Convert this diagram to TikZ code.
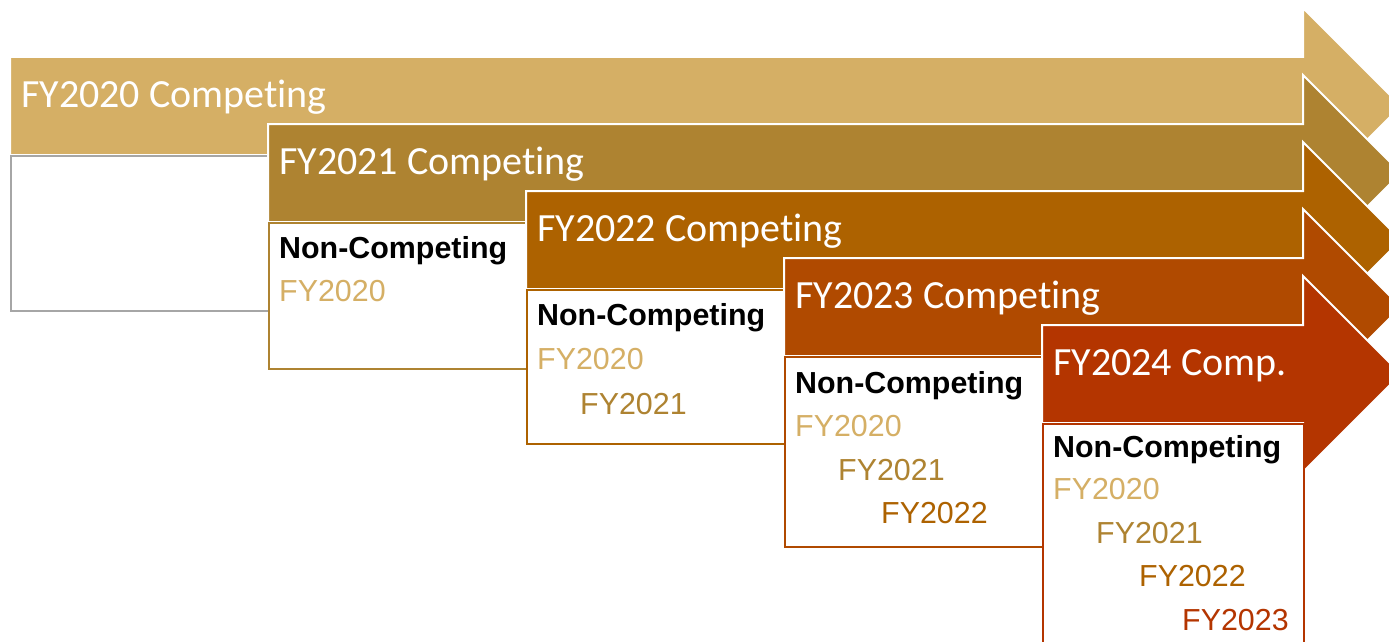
\documentclass[tikz,border=0pt]{standalone}
\usepackage{fontspec}
\setmainfont{Liberation Sans}
\newfontfamily\calibri[Ligatures={NoCommon,NoContextual,NoRequired}]{Carlito}
\usepackage{xcolor}
\usetikzlibrary{positioning}

\definecolor{fyA}{RGB}{213,175,101}
\definecolor{fyB}{RGB}{174,131,49}
\definecolor{fyC}{RGB}{173,98,0}
\definecolor{fyD}{RGB}{176,74,0}
\definecolor{fyE}{RGB}{180,53,0}
\definecolor{frameGray}{RGB}{166,166,166}

\tikzset{
    arrowbody/.style={draw=white, line width=2pt, line join=miter},
    boxframe/.style={draw, fill=white, line width=2pt, anchor=north west, inner sep=0pt, minimum width=258pt},
    comptext/.style={anchor=base west, inner sep=0pt, text=white, font=\calibri\fontsize{40}{40}\selectfont},
    listtext/.style={anchor=base west, inner sep=0pt, font=\fontsize{30.4}{36}\selectfont}
}

\begin{document}
\begin{tikzpicture}[x=1pt,y=-1pt]
        \useasboundingbox (0,0) rectangle (1389,642);
        \clip (0,0) rectangle (1389,642);

        \filldraw[arrowbody, fill=fyA] (10,57) -- (1303,57) -- (1303,8) -- (1401,106) -- (1303,204) -- (1303,155) -- (10,155) -- cycle;
        \node[comptext] (compA) at (21,107) {FY2020 Competing};
        \node[boxframe, draw=frameGray, minimum height=155pt] (boxA) at (10,155) {};

        \filldraw[arrowbody, fill=fyB] (268,124) -- (1303,124) -- (1303,75) -- (1401,173) -- (1303,271) -- (1303,222) -- (268,222) -- cycle;
        \node[comptext] (compB) at (279,174) {FY2021 Competing};
        \node[boxframe, draw=fyB, minimum height=146pt] (boxB) at (268,222) {};
        \node[listtext] (ncB) at (279,258) {\textbf{Non-Competing}};
        \node[listtext, text=fyA] (ncBa) at (279,301) {FY2020};

        \filldraw[arrowbody, fill=fyC] (526,191) -- (1303,191) -- (1303,142) -- (1401,240) -- (1303,338) -- (1303,289) -- (526,289) -- cycle;
        \node[comptext] (compC) at (537,241) {FY2022 Competing};
        \node[boxframe, draw=fyC, minimum height=154pt] (boxC) at (526,289) {};
        \node[listtext] (ncC) at (537,325) {\textbf{Non-Competing}};
        \node[listtext, text=fyA] (ncCa) at (537,369) {FY2020};
        \node[listtext, text=fyB] (ncCb) at (580,414) {FY2021};

        \filldraw[arrowbody, fill=fyD] (784,258) -- (1303,258) -- (1303,209) -- (1401,307) -- (1303,405) -- (1303,356) -- (784,356) -- cycle;
        \node[comptext] (compD) at (795,308) {FY2023 Competing};
        \node[boxframe, draw=fyD, minimum height=190pt] (boxD) at (784,356) {};
        \node[listtext] (ncD) at (795,393) {\textbf{Non-Competing}};
        \node[listtext, text=fyA] (ncDa) at (795,436) {FY2020};
        \node[listtext, text=fyB] (ncDb) at (838,480) {FY2021};
        \node[listtext, text=fyC] (ncDc) at (881,523) {FY2022};

        \filldraw[arrowbody, fill=fyE] (1042,325) -- (1303,325) -- (1303,276) -- (1401,374) -- (1303,472) -- (1303,423) -- (1042,423) -- cycle;
        \node[comptext] (compE) at (1053,375) {FY2024 Comp.};
        \node[boxframe, draw=fyE, minimum width=261pt, minimum height=240pt] (boxE) at (1042,423) {};
        \node[listtext] (ncE) at (1053,457) {\textbf{Non-Competing}};
        \node[listtext, text=fyA] (ncEa) at (1053,499) {FY2020};
        \node[listtext, text=fyB] (ncEb) at (1096,543) {FY2021};
        \node[listtext, text=fyC] (ncEc) at (1139,586) {FY2022};
        \node[listtext, text=fyE] (ncEd) at (1182,630) {FY2023};
\end{tikzpicture}
\end{document}
